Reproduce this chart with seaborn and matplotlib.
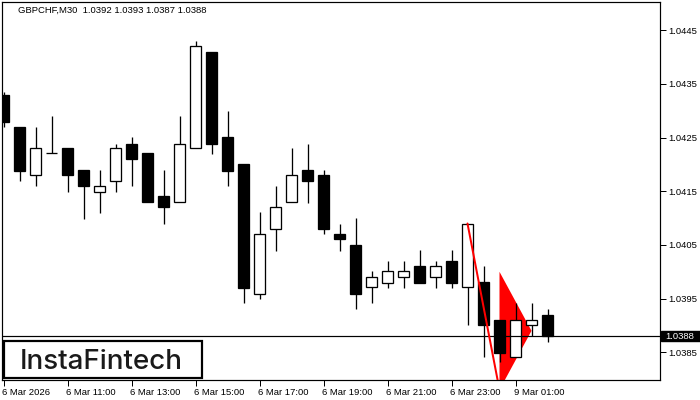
import matplotlib
matplotlib.use("Agg")
import matplotlib.pyplot as plt
import matplotlib.transforms as mtransforms
from matplotlib.patches import Rectangle
import seaborn as sns
import numpy as np
import pandas as pd

# ---- data ----
opens = [1.04329, 1.04270, 1.04180, 1.04221, 1.04231, 1.04190, 1.04149, 1.04170, 1.04239, 1.04221,
         1.04141, 1.04130, 1.04230, 1.04410, 1.04251, 1.04201, 1.03959, 1.04079, 1.04130, 1.04190,
         1.04180, 1.04070, 1.04050, 1.03971, 1.03980, 1.03990, 1.04010, 1.03990, 1.04020, 1.03971,
         1.03981, 1.03910, 1.03841, 1.03900, 1.03920]
highs = [1.04335, 1.04270, 1.04270, 1.04290, 1.04231, 1.04190, 1.04190, 1.04239, 1.04251, 1.04221,
         1.04190, 1.04290, 1.04430, 1.04410, 1.04300, 1.04201, 1.04111, 1.04160, 1.04231, 1.04239,
         1.04190, 1.04090, 1.04100, 1.04001, 1.04020, 1.04020, 1.04041, 1.04020, 1.04041, 1.04090,
         1.04011, 1.03910, 1.03941, 1.03942, 1.03930]
lows = [1.04269, 1.04169, 1.04159, 1.04221, 1.04149, 1.04098, 1.04110, 1.04149, 1.04159, 1.04130,
        1.04089, 1.04130, 1.04230, 1.04220, 1.04159, 1.03941, 1.03949, 1.04039, 1.04130, 1.04129,
        1.04070, 1.04039, 1.03930, 1.03941, 1.03970, 1.03970, 1.03980, 1.03970, 1.03970, 1.03900,
        1.03841, 1.03831, 1.03841, 1.03880, 1.03870]
closes = [1.04280, 1.04188, 1.04231, 1.04221, 1.04180, 1.04159, 1.04160, 1.04231, 1.04210, 1.04130,
          1.04120, 1.04239, 1.04421, 1.04238, 1.04188, 1.03970, 1.04070, 1.04120, 1.04180, 1.04170,
          1.04079, 1.04061, 1.03959, 1.03990, 1.04001, 1.04001, 1.03980, 1.04010, 1.03980, 1.04090,
          1.03900, 1.03849, 1.03910, 1.03910, 1.03880]

x_tick_pos = [0, 4, 8, 12, 16, 20, 24, 28, 32]
x_tick_labels = ["6 Mar 2026", "6 Mar 11:00", "6 Mar 13:00", "6 Mar 15:00", "6 Mar 17:00",
                 "6 Mar 19:00", "6 Mar 21:00", "6 Mar 23:00", "9 Mar 01:00"]
price_ticks = [1.0385, 1.0395, 1.0405, 1.0415, 1.0425, 1.0435, 1.0445]
current_price = 1.0388
title_text = "GBPCHF,M30  1.0392 1.0393 1.0387 1.0388"
logo_text = "InstaFintech"

# bearish pennant pattern: pole and flag triangle
pole_x = [29, 31]
pole_y = [1.0409, 1.0378]
pennant_x = [31, 33, 31]
pennant_y = [1.0400, 1.0389, 1.0378]

# ---- styling ----
sns.set_style("white")
plt.rcParams['font.family'] = ['Liberation Sans', 'DejaVu Sans']

W, H = 700, 400
fig = plt.figure(figsize=(W / 100, H / 100), dpi=100)
fig.patch.set_facecolor("white")
ax = fig.add_axes([2 / W, 20 / H, 658 / W, 378 / H])
ax.set_facecolor("white")

df = pd.DataFrame({"o": opens, "h": highs, "l": lows, "c": closes})
df["x"] = np.arange(len(df))
df["up"] = df["c"] >= df["o"]

px = 0.72  # one pixel in points
body_w = 11 / 16

# wicks
ax.vlines(df["x"], df["l"], df["h"], color="black", linewidth=1.3 * px, zorder=2)
# bodies
for _, r in df.iterrows():
    lo, hi = min(r.o, r.c), max(r.o, r.c)
    if hi - lo < 1e-6:
        ax.hlines(lo, r.x - body_w / 2, r.x + body_w / 2, color="black", linewidth=1.3 * px, zorder=3)
    else:
        ax.bar(r.x, hi - lo, bottom=lo, width=body_w,
               color="white" if r.up else "black", edgecolor="black",
               linewidth=1.3 * px, zorder=3)

# pennant triangle (below candles) and pole line (above)
ax.fill(pennant_x, pennant_y, color="red", linewidth=0, zorder=1)
sns.lineplot(x=pole_x, y=pole_y, color="red", linewidth=2 * px, ax=ax, zorder=5)

# current price line
ax.axhline(current_price, color="black", linewidth=1.2 * px, zorder=4)

# limits
ax.set_xlim((2 - 3.5) / 16, (660 - 3.5) / 16)
top_p = 1.0445 + (30.3 - 2) / 53667
bot_p = 1.0445 - (380 - 30.3) / 53667
ax.set_ylim(bot_p, top_p)

# axes
for s in ax.spines.values():
    s.set_color("black")
    s.set_linewidth(1.2 * px)
ax.yaxis.tick_right()
ax.set_yticks(price_ticks)
ax.set_yticklabels([f"{p:.4f}" for p in price_ticks])
ax.tick_params(axis="y", direction="out", length=4, width=1 * px, pad=2,
               labelsize=6.8, colors="black", left=False, right=True)
ax.set_xticks(x_tick_pos)
ax.set_xticklabels(x_tick_labels)
for lbl in ax.get_xticklabels():
    lbl.set_horizontalalignment("left")
ax.tick_params(axis="x", direction="out", length=4, width=1 * px, pad=1.5,
               labelsize=6.8, colors="black", bottom=True)
offset = mtransforms.ScaledTranslation(-2 / 100, 0, fig.dpi_scale_trans)
for lbl in ax.get_xticklabels():
    lbl.set_transform(lbl.get_transform() + offset)

ax.set_xlabel("")
ax.set_ylabel("")
ax.grid(False)

# title
fig.text(18 / W, 1 - 10.7 / H, title_text, fontsize=6.8, color="black", ha="left", va="center")

# current price label box on the right axis
fig.canvas.draw()
y_disp = ax.transData.transform((0, current_price))[1]
fig.patches.append(Rectangle((660.5 / W, (y_disp - 5) / H), 40 / W, 10 / H,
                             transform=fig.transFigure, facecolor="black",
                             edgecolor="black", zorder=10))
fig.text(665.5 / W, y_disp / H, f"{current_price:.4f}", fontsize=6.8, color="white",
         ha="left", va="center", zorder=11)

# logo box
fig.patches.append(Rectangle((3.5 / W, 22 / H), 198 / W, 37.5 / H, transform=fig.transFigure,
                             facecolor="white", edgecolor="black", linewidth=2.2 * px, zorder=10))
fig.text(101.7 / W, 30.7 / H, logo_text, fontsize=20, color="#1a1a1a", ha="center", va="baseline",
         family=["Inter", "DejaVu Sans"], fontweight="medium", zorder=11)

fig.savefig("out.png", dpi=100, facecolor="white")
